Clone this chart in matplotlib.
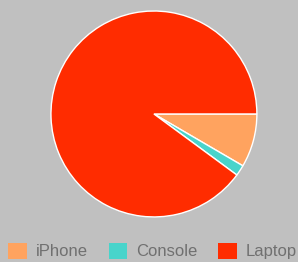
import matplotlib
matplotlib.use('Agg')
import matplotlib.pyplot as plt
from matplotlib.patches import Patch

# ====================== data ======================
labels = ['iPhone', 'Console', 'Laptop']
values = [8.4, 1.7, 89.9]
colors = ['#FFA35F', '#48D4CB', '#FF2C00']

plt.rcParams['font.family'] = ['Liberation Sans', 'DejaVu Sans']

fig = plt.figure(figsize=(2.98, 2.62), dpi=100, facecolor='#C0C0C0')
ax = fig.add_axes([0.171, 0.172, 0.691, 0.786])
ax.set_facecolor('#C0C0C0')

ax.pie(values, colors=colors, startangle=0, counterclock=False, radius=1,
       wedgeprops={'edgecolor': 'white', 'linewidth': 1.0})
ax.set_xlim(-1, 1)
ax.set_ylim(-1, 1)
ax.set_aspect('equal')
ax.axis('off')

handles = [Patch(facecolor=c, edgecolor='none') for c in colors]
leg = fig.legend(handles, labels, loc='center', bbox_to_anchor=(0.512, 0.042),
                 ncol=3, frameon=False, fontsize=12,
                 handlelength=1.1, handleheight=1.1,
                 handletextpad=0.55, columnspacing=1.25,
                 borderpad=0, borderaxespad=0)
for t in leg.get_texts():
    t.set_color('#707070')

fig.savefig('out.png', dpi=100, facecolor='#C0C0C0')
